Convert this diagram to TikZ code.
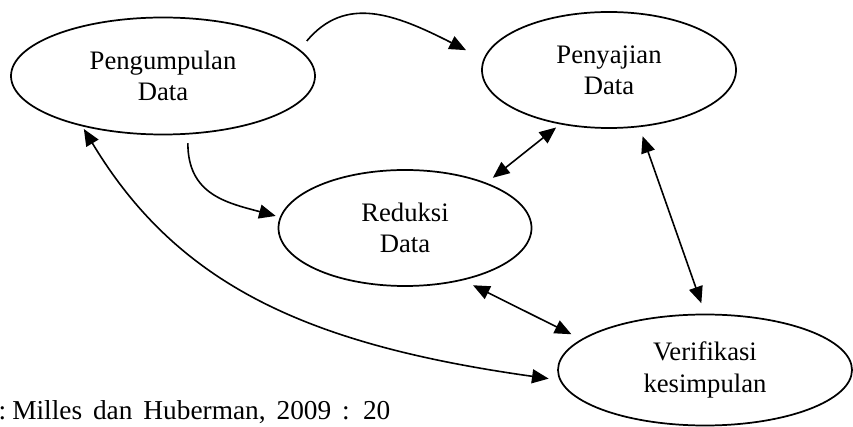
\documentclass[tikz,border=0pt]{standalone}
\usepackage{fontspec}
\setmainfont{Liberation Serif}
\usepackage{tikz}
\usetikzlibrary{shapes.geometric, arrows.meta, positioning, calc}

\begin{document}
\begin{tikzpicture}[
    x=0.75pt, y=0.75pt,
    every node/.style={font=\fontsize{20}{23.5}\selectfont},
    stage/.style={
        ellipse,
        draw=black,
        line width=1.3pt,
        inner sep=0pt,
        align=center
    },
    myarrow/.style={
        -{Triangle[length=12.5pt, width=10.5pt]},
        line width=1.2pt
    },
    twoway/.style={
        {Triangle[length=12.5pt, width=10.5pt]}-{Triangle[length=12.5pt, width=10.5pt]},
        line width=1.2pt
    },
    mylabel/.style={
        inner sep=0pt,
        font=\fontsize{20.5}{24}\selectfont
    }
]
\useasboundingbox (0,0) rectangle (853,-427);

% The four stages
\node[stage, minimum width=228pt, minimum height=87.75pt] (kumpul) at (163,-76) {Pengumpulan\\Data};
\node[stage, minimum width=190.5pt, minimum height=87pt] (sajian) at (609,-70) {Penyajian\\Data};
\node[stage, minimum width=189.75pt, minimum height=87pt] (reduksi) at (405,-228) {Reduksi\\Data};
\node[stage, minimum width=220.5pt, minimum height=83.25pt] (verifikasi) at (705,-370) {Verifikasi\\kesimpulan};

% Collection feeds display and reduction
\draw[myarrow, shorten <=8.25pt, shorten >=14.6pt] (kumpul.11) .. controls +(50:71) and +(153:100) .. (sajian.175);
\draw[myarrow, shorten <=6.5pt, shorten >=3.2pt] (kumpul.293) .. controls +(270:60) and +(165:55) .. (reduksi.175);

% Two-way links
\draw[twoway, shorten <=6pt, shorten >=3.75pt] (reduksi.29) -- (sajian.228);
\draw[twoway, shorten <=7.2pt, shorten >=8.25pt] (sajian.298) -- (verifikasi.90);
\draw[twoway, shorten <=8.25pt, shorten >=8.25pt] (reduksi.318) -- (verifikasi.166);
\draw[twoway, shorten <=8.25pt, shorten >=2.25pt] (verifikasi.184) .. controls +(172:255) and +(-59:185) .. (kumpul.212);

% Source
\node[mylabel, anchor=base west] (sumber) at (-1.6,-420) {\spaceskip=0.4em :\hspace{0.22em}Milles dan Huberman, 2009 : 20};

\end{tikzpicture}
\end{document}
